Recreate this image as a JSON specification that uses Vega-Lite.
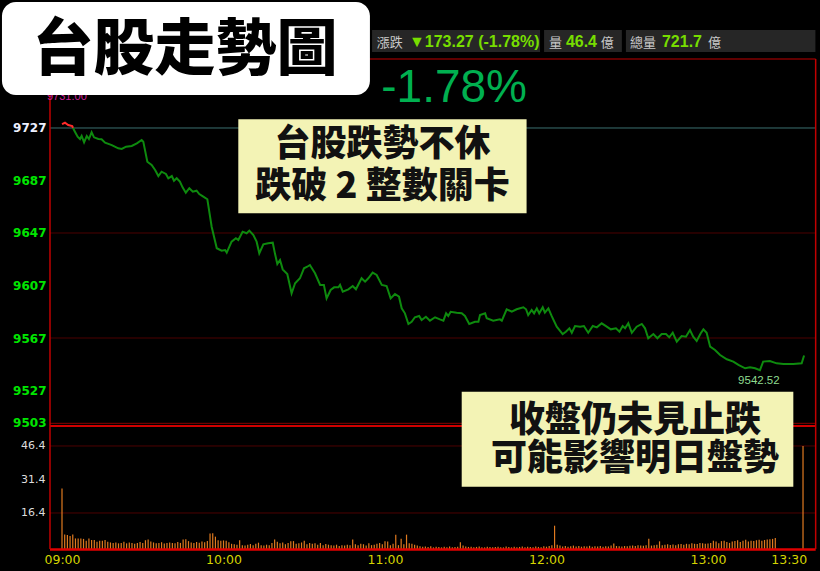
{
"$schema": "https://vega.github.io/schema/vega-lite/v6.json",
"width": 820, "height": 571,
"autosize": {"type": "fit", "contains": "padding"},
"padding": 0,
"background": "#000000",
"config": {"view": {"stroke": null}, "axis": {"grid": false, "domain": false, "ticks": false, "tickSize": 0, "title": null, "labelOverlap": false}},
"datasets": {
"price": [
{"t":0,"p":9730.0,"s":"r"},{"t":1.1,"p":9731.0,"s":"r"},{"t":2.3,"p":9729.3,"s":"r"},{"t":3.8,"p":9728.5,"s":"r"},{"t":4.1,"p":9727.0,"s":"r"},
{"t":4.1,"p":9727.0,"s":"g"},{"t":4.8,"p":9724.2,"s":"g"},{"t":5.8,"p":9720.4,"s":"g"},{"t":6.7,"p":9718.6,"s":"g"},{"t":7.3,"p":9720.9,"s":"g"},{"t":8.2,"p":9716.1,"s":"g"},{"t":9.2,"p":9720.9,"s":"g"},{"t":10.0,"p":9718.6,"s":"g"},{"t":11.0,"p":9723.7,"s":"g"},{"t":11.9,"p":9719.9,"s":"g"},{"t":13.5,"p":9718.6,"s":"g"},{"t":14.7,"p":9718.4,"s":"g"},{"t":16.0,"p":9715.8,"s":"g"},{"t":18.5,"p":9714.0,"s":"g"},{"t":20.9,"p":9711.5,"s":"g"},{"t":22.2,"p":9711.0,"s":"g"},{"t":23.8,"p":9712.8,"s":"g"},{"t":25.9,"p":9713.3,"s":"g"},{"t":27.8,"p":9715.3,"s":"g"},{"t":29.6,"p":9717.9,"s":"g"},{"t":30.2,"p":9716.6,"s":"g"},{"t":31.7,"p":9701.3,"s":"g"},{"t":33.3,"p":9698.8,"s":"g"},{"t":34.6,"p":9695.0,"s":"g"},{"t":35.8,"p":9690.4,"s":"g"},{"t":37.0,"p":9693.7,"s":"g"},{"t":38.6,"p":9692.0,"s":"g"},{"t":39.5,"p":9688.7,"s":"g"},{"t":40.8,"p":9690.4,"s":"g"},{"t":41.6,"p":9686.8,"s":"g"},{"t":42.6,"p":9688.7,"s":"g"},{"t":43.8,"p":9686.1,"s":"g"},{"t":44.8,"p":9681.8,"s":"g"},{"t":46.0,"p":9677.7,"s":"g"},{"t":47.3,"p":9681.1,"s":"g"},{"t":48.6,"p":9678.5,"s":"g"},{"t":50.0,"p":9679.2,"s":"g"},{"t":51.0,"p":9676.7,"s":"g"},{"t":52.5,"p":9674.7,"s":"g"},{"t":54.0,"p":9672.7,"s":"g"},{"t":55.6,"p":9651.8,"s":"g"},{"t":57.5,"p":9635.4,"s":"g"},{"t":59.3,"p":9633.5,"s":"g"},{"t":60.6,"p":9634.0,"s":"g"},{"t":61.2,"p":9632.0,"s":"g"},{"t":63.0,"p":9640.4,"s":"g"},{"t":64.6,"p":9643.0,"s":"g"},{"t":65.5,"p":9641.7,"s":"g"},{"t":67.1,"p":9648.0,"s":"g"},{"t":68.6,"p":9646.8,"s":"g"},{"t":69.6,"p":9648.8,"s":"g"},{"t":71.1,"p":9645.5,"s":"g"},{"t":72.3,"p":9640.4,"s":"g"},{"t":73.3,"p":9631.5,"s":"g"},{"t":74.8,"p":9638.4,"s":"g"},{"t":76.6,"p":9639.2,"s":"g"},{"t":78.3,"p":9639.6,"s":"g"},{"t":79.1,"p":9631.5,"s":"g"},{"t":80.0,"p":9623.4,"s":"g"},{"t":81.0,"p":9626.4,"s":"g"},{"t":82.0,"p":9619.3,"s":"g"},{"t":83.7,"p":9615.8,"s":"g"},{"t":85.3,"p":9601.1,"s":"g"},{"t":86.6,"p":9608.7,"s":"g"},{"t":88.4,"p":9612.5,"s":"g"},{"t":89.9,"p":9620.1,"s":"g"},{"t":91.1,"p":9621.3,"s":"g"},{"t":92.1,"p":9622.6,"s":"g"},{"t":94.0,"p":9616.3,"s":"g"},{"t":95.9,"p":9607.4,"s":"g"},{"t":97.3,"p":9607.4,"s":"g"},{"t":98.3,"p":9597.2,"s":"g"},{"t":99.8,"p":9603.6,"s":"g"},{"t":101.1,"p":9605.6,"s":"g"},{"t":102.7,"p":9605.6,"s":"g"},{"t":103.3,"p":9607.4,"s":"g"},{"t":104.3,"p":9602.3,"s":"g"},{"t":106.4,"p":9604.1,"s":"g"},{"t":108.0,"p":9606.6,"s":"g"},{"t":109.2,"p":9604.1,"s":"g"},{"t":111.3,"p":9612.5,"s":"g"},{"t":112.6,"p":9609.9,"s":"g"},{"t":113.8,"p":9612.5,"s":"g"},{"t":115.4,"p":9616.8,"s":"g"},{"t":116.9,"p":9615.0,"s":"g"},{"t":118.8,"p":9607.4,"s":"g"},{"t":120.6,"p":9606.6,"s":"g"},{"t":122.1,"p":9597.2,"s":"g"},{"t":123.7,"p":9600.5,"s":"g"},{"t":125.2,"p":9598.5,"s":"g"},{"t":126.2,"p":9589.6,"s":"g"},{"t":127.4,"p":9585.8,"s":"g"},{"t":128.7,"p":9577.7,"s":"g"},{"t":129.9,"p":9579.4,"s":"g"},{"t":131.1,"p":9582.8,"s":"g"},{"t":132.7,"p":9583.8,"s":"g"},{"t":133.6,"p":9580.7,"s":"g"},{"t":135.2,"p":9583.2,"s":"g"},{"t":136.7,"p":9580.2,"s":"g"},{"t":138.6,"p":9582.8,"s":"g"},{"t":140.4,"p":9581.2,"s":"g"},{"t":141.7,"p":9580.2,"s":"g"},{"t":142.7,"p":9585.8,"s":"g"},{"t":143.5,"p":9583.8,"s":"g"},{"t":144.4,"p":9587.0,"s":"g"},{"t":146.6,"p":9586.3,"s":"g"},{"t":148.5,"p":9585.8,"s":"g"},{"t":149.7,"p":9583.8,"s":"g"},{"t":151.3,"p":9577.7,"s":"g"},{"t":153.4,"p":9579.4,"s":"g"},{"t":154.7,"p":9579.4,"s":"g"},{"t":155.3,"p":9584.5,"s":"g"},{"t":157.2,"p":9585.8,"s":"g"},{"t":157.8,"p":9582.0,"s":"g"},{"t":160.2,"p":9580.2,"s":"g"},{"t":162.7,"p":9581.2,"s":"g"},{"t":163.4,"p":9580.2,"s":"g"},{"t":165.2,"p":9588.9,"s":"g"},{"t":167.1,"p":9587.0,"s":"g"},{"t":168.9,"p":9588.9,"s":"g"},{"t":171.4,"p":9590.4,"s":"g"},{"t":172.4,"p":9588.9,"s":"g"},{"t":173.2,"p":9584.5,"s":"g"},{"t":174.5,"p":9588.3,"s":"g"},{"t":175.4,"p":9585.8,"s":"g"},{"t":176.4,"p":9589.6,"s":"g"},{"t":177.3,"p":9585.8,"s":"g"},{"t":178.6,"p":9590.4,"s":"g"},{"t":179.4,"p":9586.3,"s":"g"},{"t":180.7,"p":9589.6,"s":"g"},{"t":181.9,"p":9583.8,"s":"g"},{"t":183.8,"p":9575.6,"s":"g"},{"t":186.0,"p":9570.0,"s":"g"},{"t":187.2,"p":9571.8,"s":"g"},{"t":188.5,"p":9574.4,"s":"g"},{"t":189.4,"p":9571.0,"s":"g"},{"t":190.6,"p":9576.1,"s":"g"},{"t":192.5,"p":9575.6,"s":"g"},{"t":193.9,"p":9576.1,"s":"g"},{"t":195.5,"p":9571.0,"s":"g"},{"t":197.2,"p":9576.1,"s":"g"},{"t":198.7,"p":9575.1,"s":"g"},{"t":200.5,"p":9578.2,"s":"g"},{"t":202.1,"p":9576.1,"s":"g"},{"t":203.9,"p":9573.6,"s":"g"},{"t":205.8,"p":9574.4,"s":"g"},{"t":207.1,"p":9571.8,"s":"g"},{"t":208.3,"p":9576.1,"s":"g"},{"t":209.2,"p":9574.4,"s":"g"},{"t":210.4,"p":9578.2,"s":"g"},{"t":211.7,"p":9571.0,"s":"g"},{"t":213.5,"p":9575.6,"s":"g"},{"t":215.4,"p":9577.7,"s":"g"},{"t":216.6,"p":9574.4,"s":"g"},{"t":217.8,"p":9566.8,"s":"g"},{"t":219.7,"p":9570.0,"s":"g"},{"t":221.2,"p":9566.8,"s":"g"},{"t":222.8,"p":9570.0,"s":"g"},{"t":224.4,"p":9570.0,"s":"g"},{"t":225.6,"p":9567.5,"s":"g"},{"t":226.9,"p":9571.0,"s":"g"},{"t":228.4,"p":9564.2,"s":"g"},{"t":230.2,"p":9568.5,"s":"g"},{"t":231.8,"p":9568.0,"s":"g"},{"t":233.3,"p":9573.1,"s":"g"},{"t":234.5,"p":9568.0,"s":"g"},{"t":235.8,"p":9564.7,"s":"g"},{"t":237.3,"p":9570.6,"s":"g"},{"t":238.3,"p":9573.6,"s":"g"},{"t":239.5,"p":9571.0,"s":"g"},{"t":240.8,"p":9560.4,"s":"g"},{"t":242.6,"p":9557.9,"s":"g"},{"t":244.5,"p":9554.0,"s":"g"},{"t":247.0,"p":9550.8,"s":"g"},{"t":249.4,"p":9549.0,"s":"g"},{"t":251.3,"p":9546.5,"s":"g"},{"t":253.8,"p":9543.9,"s":"g"},{"t":255.6,"p":9544.7,"s":"g"},{"t":257.5,"p":9543.9,"s":"g"},{"t":259.3,"p":9542.5,"s":"g"},{"t":260.5,"p":9549.0,"s":"g"},{"t":263.0,"p":9549.5,"s":"g"},{"t":265.5,"p":9547.7,"s":"g"},{"t":268.0,"p":9547.2,"s":"g"},{"t":271.7,"p":9547.2,"s":"g"},{"t":274.8,"p":9547.7,"s":"g"},{"t":275.7,"p":9553.7,"s":"g"}
],
"vol": [
{"t":0,"v":27.4},{"t":1,"v":6.8},{"t":2,"v":6.5},{"t":3,"v":6.1},{"t":4,"v":6.8},{"t":5,"v":5.0},{"t":6,"v":5.0},{"t":7,"v":5.0},{"t":8,"v":4.8},{"t":9,"v":4.0},
{"t":10,"v":5.0},{"t":11,"v":4.3},{"t":12,"v":4.3},{"t":13,"v":3.5},{"t":14,"v":4.0},{"t":15,"v":4.0},{"t":16,"v":4.3},{"t":17,"v":3.5},{"t":18,"v":3.2},{"t":19,"v":3.0},
{"t":20,"v":3.2},{"t":21,"v":2.8},{"t":22,"v":3.0},{"t":23,"v":3.5},{"t":24,"v":2.8},{"t":25,"v":3.2},{"t":26,"v":3.0},{"t":27,"v":2.6},{"t":28,"v":3.0},{"t":29,"v":3.4},
{"t":30,"v":3.0},{"t":31,"v":4.2},{"t":32,"v":4.5},{"t":33,"v":3.6},{"t":34,"v":3.2},{"t":35,"v":2.8},{"t":36,"v":3.0},{"t":37,"v":3.3},{"t":38,"v":2.7},{"t":39,"v":3.0},
{"t":40,"v":3.2},{"t":41,"v":3.0},{"t":42,"v":2.8},{"t":43,"v":3.4},{"t":44,"v":3.0},{"t":45,"v":4.5},{"t":46,"v":4.6},{"t":47,"v":3.8},{"t":48,"v":3.2},{"t":49,"v":3.0},
{"t":50,"v":3.4},{"t":51,"v":3.1},{"t":52,"v":3.6},{"t":53,"v":3.3},{"t":54,"v":3.8},{"t":55,"v":7.2},{"t":56,"v":7.3},{"t":57,"v":5.8},{"t":58,"v":4.2},{"t":59,"v":4.0},
{"t":60,"v":4.1},{"t":61,"v":4.0},{"t":62,"v":3.3},{"t":63,"v":2.6},{"t":64,"v":2.4},{"t":65,"v":2.2},{"t":66,"v":4.2},{"t":67,"v":2.0},{"t":68,"v":1.8},{"t":69,"v":2.2},
{"t":70,"v":2.5},{"t":71,"v":2.0},{"t":72,"v":2.6},{"t":73,"v":3.1},{"t":74,"v":2.0},{"t":75,"v":1.8},{"t":76,"v":2.2},{"t":77,"v":2.0},{"t":78,"v":3.0},{"t":79,"v":4.5},
{"t":80,"v":3.5},{"t":81,"v":2.8},{"t":82,"v":3.2},{"t":83,"v":2.4},{"t":84,"v":3.0},{"t":85,"v":3.7},{"t":86,"v":3.8},{"t":87,"v":2.6},{"t":88,"v":2.8},{"t":89,"v":3.2},
{"t":90,"v":4.0},{"t":91,"v":2.4},{"t":92,"v":3.0},{"t":93,"v":2.6},{"t":94,"v":2.9},{"t":95,"v":2.2},{"t":96,"v":3.0},{"t":97,"v":2.0},{"t":98,"v":2.5},{"t":99,"v":2.2},
{"t":100,"v":2.0},{"t":101,"v":1.8},{"t":102,"v":2.2},{"t":103,"v":1.6},{"t":104,"v":2.0},{"t":105,"v":1.8},{"t":106,"v":2.2},{"t":107,"v":2.0},{"t":108,"v":4.5},{"t":109,"v":2.4},
{"t":110,"v":2.0},{"t":111,"v":2.6},{"t":112,"v":2.4},{"t":113,"v":1.8},{"t":114,"v":2.8},{"t":115,"v":2.0},{"t":116,"v":2.2},{"t":117,"v":2.6},{"t":118,"v":3.0},{"t":119,"v":2.4},
{"t":120,"v":3.7},{"t":121,"v":3.6},{"t":122,"v":2.0},{"t":123,"v":2.6},{"t":124,"v":6.7},{"t":125,"v":2.0},{"t":126,"v":4.9},{"t":127,"v":2.4},{"t":128,"v":6.7},{"t":129,"v":2.8},
{"t":130,"v":2.6},{"t":131,"v":2.2},{"t":132,"v":1.8},{"t":133,"v":1.5},{"t":134,"v":1.3},{"t":135,"v":1.4},{"t":136,"v":1.2},{"t":137,"v":1.5},{"t":138,"v":1.0},{"t":139,"v":1.3},
{"t":140,"v":1.2},{"t":141,"v":1.0},{"t":142,"v":1.3},{"t":143,"v":1.1},{"t":144,"v":1.4},{"t":145,"v":1.0},{"t":146,"v":1.2},{"t":147,"v":1.3},{"t":148,"v":3.3},{"t":149,"v":1.8},
{"t":150,"v":1.4},{"t":151,"v":1.2},{"t":152,"v":1.3},{"t":153,"v":1.0},{"t":154,"v":1.2},{"t":155,"v":1.4},{"t":156,"v":1.1},{"t":157,"v":1.0},{"t":158,"v":1.3},{"t":159,"v":1.2},
{"t":160,"v":1.0},{"t":161,"v":1.2},{"t":162,"v":1.3},{"t":163,"v":1.1},{"t":164,"v":1.0},{"t":165,"v":1.4},{"t":166,"v":1.2},{"t":167,"v":1.0},{"t":168,"v":1.3},{"t":169,"v":1.1},
{"t":170,"v":1.2},{"t":171,"v":1.4},{"t":172,"v":1.0},{"t":173,"v":1.3},{"t":174,"v":1.2},{"t":175,"v":1.1},{"t":176,"v":1.4},{"t":177,"v":1.2},{"t":178,"v":1.0},{"t":179,"v":1.5},
{"t":180,"v":1.3},{"t":181,"v":1.6},{"t":182,"v":2.0},{"t":183,"v":10.7},{"t":184,"v":2.2},{"t":185,"v":1.8},{"t":186,"v":1.4},{"t":187,"v":1.6},{"t":188,"v":1.3},{"t":189,"v":1.5},
{"t":190,"v":1.8},{"t":191,"v":1.4},{"t":192,"v":1.6},{"t":193,"v":1.3},{"t":194,"v":1.5},{"t":195,"v":1.4},{"t":196,"v":1.7},{"t":197,"v":1.3},{"t":198,"v":1.5},{"t":199,"v":1.4},
{"t":200,"v":1.6},{"t":201,"v":1.3},{"t":202,"v":1.5},{"t":203,"v":1.4},{"t":204,"v":1.8},{"t":205,"v":2.7},{"t":206,"v":1.6},{"t":207,"v":1.5},{"t":208,"v":1.4},{"t":209,"v":1.6},
{"t":210,"v":1.5},{"t":211,"v":1.7},{"t":212,"v":1.8},{"t":213,"v":1.6},{"t":214,"v":1.9},{"t":215,"v":1.8},{"t":216,"v":1.7},{"t":217,"v":2.0},{"t":218,"v":4.9},{"t":219,"v":1.8},
{"t":220,"v":2.0},{"t":221,"v":2.2},{"t":222,"v":3.7},{"t":223,"v":2.0},{"t":224,"v":2.2},{"t":225,"v":2.4},{"t":226,"v":2.1},{"t":227,"v":2.3},{"t":228,"v":2.0},{"t":229,"v":2.4},
{"t":230,"v":2.5},{"t":231,"v":2.2},{"t":232,"v":2.6},{"t":233,"v":2.4},{"t":234,"v":2.8},{"t":235,"v":2.6},{"t":236,"v":2.5},{"t":237,"v":3.0},{"t":238,"v":2.8},{"t":239,"v":2.6},
{"t":240,"v":2.7},{"t":241,"v":3.0},{"t":242,"v":4.0},{"t":243,"v":3.6},{"t":244,"v":2.8},{"t":245,"v":3.8},{"t":246,"v":4.0},{"t":247,"v":3.4},{"t":248,"v":3.0},{"t":249,"v":3.6},
{"t":250,"v":3.8},{"t":251,"v":4.2},{"t":252,"v":3.4},{"t":253,"v":4.0},{"t":254,"v":4.4},{"t":255,"v":3.6},{"t":256,"v":4.0},{"t":257,"v":3.8},{"t":258,"v":4.2},{"t":259,"v":4.4},
{"t":260,"v":4.0},{"t":261,"v":4.3},{"t":262,"v":4.5},{"t":263,"v":4.6},{"t":264,"v":4.8},{"t":265,"v":5.2},
{"t":275.3,"v":46.4}
],
"one": [{}]
},
"layer": [
{"layer": [
 {"data": {"values": [{"v": 46.4}, {"v": 16.4}]},
  "mark": {"type": "rule", "color": "#4d0000", "strokeWidth": 1},
  "encoding": {
   "x": {"datum": -4.46, "type": "quantitative"},
   "x2": {"datum": 280},
   "y": {"field": "v", "type": "quantitative",
     "scale": {"domain": [-9.58, 246.09], "nice": false, "zero": false},
     "axis": {"orient": "left", "offset": -50, "values": [16.4, 31.4, 46.4], "format": ".1f", "labelColor": "#dddddd", "labelFont": "DejaVu Sans", "labelFontSize": 11, "labelPadding": 5}}
  }},
 {"data": {"name": "vol"},
  "mark": {"type": "rule", "color": "#e07a1f", "strokeWidth": 1.2},
  "encoding": {
   "x": {"field": "t", "type": "quantitative",
     "scale": {"domain": [-23.034, 281.61], "nice": false, "zero": false},
     "axis": {"orient": "bottom", "values": [0, 60, 120, 180, 240, 270], "labelExpr": "datum.value == 270 ? '13:30' : ['09:00','10:00','11:00','12:00','13:00'][datum.value / 60]", "labelColor": "#d4d400", "labelFont": "DejaVu Sans", "labelFontSize": 12.5, "offset": -16, "labelPadding": 4, "labelBaseline": "middle"}},
   "y": {"field": "v", "type": "quantitative"},
   "y2": {"datum": 0}
  }},
 {"data": {"name": "one"},
  "mark": {"type": "rule", "color": "#e00000", "strokeWidth": 2.5},
  "encoding": {"x": {"datum": -4.46, "type": "quantitative"}, "x2": {"datum": 280}, "y": {"datum": 0, "type": "quantitative"}}}
]},
{"data": {"name": "one"},
 "layer": [
 {"data": {"values": [{"p": 9647}, {"p": 9567}]},
  "mark": {"type": "rule", "color": "#4d0000", "strokeWidth": 1},
  "encoding": {
   "x": {"datum": -4.46, "type": "quantitative"},
   "x2": {"datum": 280},
   "y": {"field": "p", "type": "quantitative",
     "scale": {"domain": [9389.48, 9824.52], "nice": false, "zero": false},
     "axis": {"orient": "left", "offset": -50, "values": [9503, 9527, 9567, 9607, 9647, 9687, 9727], "format": "d",
       "labelColor": {"condition": {"test": "datum.value === 9727", "value": "#eef0ff"}, "value": "#00e600"},
       "labelFont": "DejaVu Sans", "labelFontSize": 12, "labelFontWeight": "bold", "labelPadding": 4}}
  }},
 {"mark": {"type": "rule", "color": "#3b7070", "strokeWidth": 1},
  "encoding": {"x": {"datum": -4.46, "type": "quantitative"}, "x2": {"datum": 280}, "y": {"datum": 9727, "type": "quantitative"}}},
 {"mark": {"type": "rule", "color": "#8a0000", "strokeWidth": 1},
  "encoding": {"x": {"datum": -4.46, "type": "quantitative"}, "x2": {"datum": 280}, "y": {"datum": 9502, "type": "quantitative"}}},
 {"mark": {"type": "rule", "color": "#d00000", "strokeWidth": 2},
  "encoding": {"x": {"datum": -4.46, "type": "quantitative"}, "x2": {"datum": 280}, "y": {"datum": 9500, "type": "quantitative"}}},
 {"mark": {"type": "rule", "color": "#800000", "strokeWidth": 1.5},
  "encoding": {"x": {"datum": -4.46, "type": "quantitative"}, "x2": {"datum": 280}, "y": {"datum": 9779.6, "type": "quantitative"}}},
 {"mark": {"type": "rule", "color": "#c00000", "strokeWidth": 1.5},
  "encoding": {"x": {"datum": -4.46, "type": "quantitative"}, "y": {"datum": 9779.6, "type": "quantitative"}, "y2": {"datum": 9406.2}}},
 {"mark": {"type": "rule", "color": "#c00000", "strokeWidth": 1.5},
  "encoding": {"x": {"datum": 280, "type": "quantitative"}, "y": {"datum": 9779.6, "type": "quantitative"}, "y2": {"datum": 9406.2}}},
 {"data": {"name": "price"},
  "mark": {"type": "line", "strokeWidth": 2},
  "encoding": {
   "x": {"field": "t", "type": "quantitative"},
   "y": {"field": "p", "type": "quantitative"},
   "color": {"field": "s", "type": "nominal", "scale": {"domain": ["r", "g"], "range": ["#ff2b2b", "#0e8a0e"]}, "legend": null}
  }},
 {"mark": {"type": "text", "text": "9542.52", "color": "#8fdc8f", "font": "Liberation Sans", "fontSize": 11.5, "align": "center", "baseline": "middle"},
  "encoding": {"x": {"datum": 258.9, "type": "quantitative"}, "y": {"datum": 9534.5, "type": "quantitative"}}},
 {"mark": {"type": "text", "text": "9731.00", "color": "#cc2299", "font": "Liberation Sans", "fontSize": 11, "align": "left", "baseline": "alphabetic"},
  "encoding": {"x": {"datum": -5.57, "type": "quantitative"}, "y": {"datum": 9748.3, "type": "quantitative"}}},
 {"mark": {"type": "rect", "color": "#262626"},
  "encoding": {"x": {"datum": 115.2, "type": "quantitative"}, "x2": {"datum": 177.6}, "y": {"datum": 9801.7, "type": "quantitative"}, "y2": {"datum": 9784.9}}},
 {"mark": {"type": "rect", "color": "#262626"},
  "encoding": {"x": {"datum": 179.1, "type": "quantitative"}, "x2": {"datum": 208.0}, "y": {"datum": 9801.7, "type": "quantitative"}, "y2": {"datum": 9784.9}}},
 {"mark": {"type": "rect", "color": "#262626"},
  "encoding": {"x": {"datum": 209.5, "type": "quantitative"}, "x2": {"datum": 279.9}, "y": {"datum": 9801.7, "type": "quantitative"}, "y2": {"datum": 9784.9}}},
 {"mark": {"type": "text", "text": "漲跌", "color": "#c8c8c8", "font": "Noto Sans CJK TC", "fontSize": 13, "align": "left", "baseline": "alphabetic"},
  "encoding": {"x": {"datum": 116.9, "type": "quantitative"}, "y": {"datum": 9788.9, "type": "quantitative"}}},
 {"mark": {"type": "text", "text": "▼173.27 (-1.78%)", "color": "#77dd00", "font": "Liberation Sans", "fontWeight": "bold", "fontSize": 16, "align": "left", "baseline": "alphabetic"},
  "encoding": {"x": {"datum": 128.9, "type": "quantitative"}, "y": {"datum": 9788.9, "type": "quantitative"}}},
 {"mark": {"type": "text", "text": "量", "color": "#c8c8c8", "font": "Noto Sans CJK TC", "fontSize": 13, "align": "left", "baseline": "alphabetic"},
  "encoding": {"x": {"datum": 180.9, "type": "quantitative"}, "y": {"datum": 9788.9, "type": "quantitative"}}},
 {"mark": {"type": "text", "text": "46.4", "color": "#77dd00", "font": "Liberation Sans", "fontWeight": "bold", "fontSize": 16, "align": "left", "baseline": "alphabetic"},
  "encoding": {"x": {"datum": 187.2, "type": "quantitative"}, "y": {"datum": 9788.9, "type": "quantitative"}}},
 {"mark": {"type": "text", "text": "億", "color": "#c8c8c8", "font": "Noto Sans CJK TC", "fontSize": 13, "align": "left", "baseline": "alphabetic"},
  "encoding": {"x": {"datum": 200.2, "type": "quantitative"}, "y": {"datum": 9788.9, "type": "quantitative"}}},
 {"mark": {"type": "text", "text": "總量", "color": "#c8c8c8", "font": "Noto Sans CJK TC", "fontSize": 13, "align": "left", "baseline": "alphabetic"},
  "encoding": {"x": {"datum": 211.0, "type": "quantitative"}, "y": {"datum": 9788.9, "type": "quantitative"}}},
 {"mark": {"type": "text", "text": "721.7", "color": "#77dd00", "font": "Liberation Sans", "fontWeight": "bold", "fontSize": 16, "align": "left", "baseline": "alphabetic"},
  "encoding": {"x": {"datum": 222.9, "type": "quantitative"}, "y": {"datum": 9788.9, "type": "quantitative"}}},
 {"mark": {"type": "text", "text": "億", "color": "#c8c8c8", "font": "Noto Sans CJK TC", "fontSize": 13, "align": "left", "baseline": "alphabetic"},
  "encoding": {"x": {"datum": 240.0, "type": "quantitative"}, "y": {"datum": 9788.9, "type": "quantitative"}}},
 {"mark": {"type": "text", "text": "-1.78%", "color": "#00b050", "font": "Liberation Sans", "fontSize": 46, "align": "left", "baseline": "alphabetic"},
  "encoding": {"x": {"datum": 118.6, "type": "quantitative"}, "y": {"datum": 9747.0, "type": "quantitative"}}},
 {"mark": {"type": "rect", "color": "#ffffff", "cornerRadius": 14},
  "encoding": {"x": {"datum": -22.3, "type": "quantitative"}, "x2": {"datum": 114.4}, "y": {"datum": 9823.0, "type": "quantitative"}, "y2": {"datum": 9752.1}}},
 {"mark": {"type": "text", "text": "台股走勢圖", "color": "#000000", "font": "Noto Sans CJK TC", "fontWeight": 900, "fontSize": 61, "align": "center", "baseline": "middle"},
  "encoding": {"x": {"datum": 45.7, "type": "quantitative"}, "y": {"datum": 9785.2, "type": "quantitative"}}},
 {"mark": {"type": "rect", "color": "#f3f3b5"},
  "encoding": {"x": {"datum": 65.5, "type": "quantitative"}, "x2": {"datum": 172.6}, "y": {"datum": 9733.6, "type": "quantitative"}, "y2": {"datum": 9662.0}}},
 {"mark": {"type": "text", "text": "台股跌勢不休", "color": "#111111", "font": "Noto Sans CJK TC", "fontWeight": 900, "fontSize": 36, "align": "center", "baseline": "middle"},
  "encoding": {"x": {"datum": 119.1, "type": "quantitative"}, "y": {"datum": 9714.3, "type": "quantitative"}}},
 {"mark": {"type": "text", "text": "跌破 2 整數關卡", "color": "#111111", "font": "Noto Sans CJK TC", "fontWeight": 900, "fontSize": 36, "align": "center", "baseline": "middle"},
  "encoding": {"x": {"datum": 119.1, "type": "quantitative"}, "y": {"datum": 9682.1, "type": "quantitative"}}},
 {"mark": {"type": "rect", "color": "#f3f3b5"},
  "encoding": {"x": {"datum": 148.5, "type": "quantitative"}, "x2": {"datum": 271.7}, "y": {"datum": 9526.1, "type": "quantitative"}, "y2": {"datum": 9453.7}}},
 {"mark": {"type": "text", "text": "收盤仍未見止跌", "color": "#111111", "font": "Noto Sans CJK TC", "fontWeight": 900, "fontSize": 36, "align": "center", "baseline": "middle"},
  "encoding": {"x": {"datum": 212.9, "type": "quantitative"}, "y": {"datum": 9503.5, "type": "quantitative"}}},
 {"mark": {"type": "text", "text": "可能影響明日盤勢", "color": "#111111", "font": "Noto Sans CJK TC", "fontWeight": 900, "fontSize": 36, "align": "center", "baseline": "middle"},
  "encoding": {"x": {"datum": 212.9, "type": "quantitative"}, "y": {"datum": 9474.8, "type": "quantitative"}}}
]}
],
"resolve": {"scale": {"y": "independent"}}
}
